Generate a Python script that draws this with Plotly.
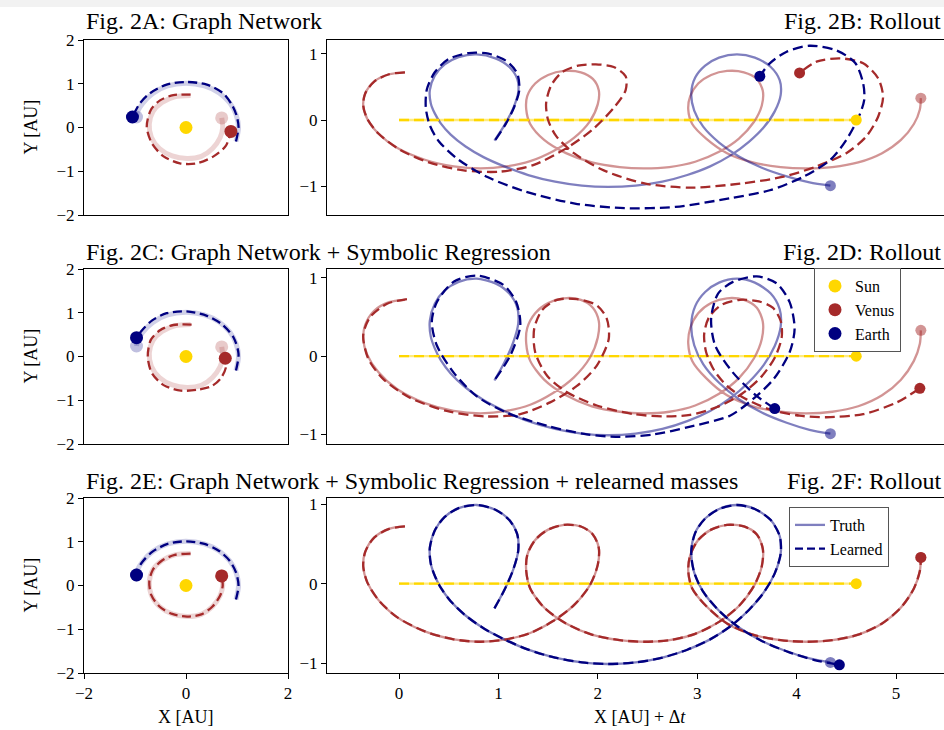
import plotly.graph_objects as go

# the page has no body margin: the figure fills the 944 x 730 window
OFF = 0
W, H = 944, 730
FONT = "Liberation Serif"

SUN = "#ffd700"
VENUS = "#a52a2a"
EARTH = "#000080"

# ---------------- data: right-hand rollout panels (X + dt vs Y) ----------------
sun_x = [0.0, 4.6]
sun_y = [0.0, 0.0]

# ground truth (same in 2B, 2D, 2F)
venus_true_x = [0.06, -0.10, -0.25, -0.34, -0.36, -0.32, -0.21, -0.02, 0.26, 0.55,
                0.82, 1.08, 1.32, 1.55, 1.76, 1.92, 2.00, 2.01, 1.95, 1.83,
                1.66, 1.50, 1.37, 1.29, 1.28, 1.32, 1.46, 1.68, 1.94, 2.22,
                2.46, 2.72, 2.98, 3.22, 3.42, 3.57, 3.65, 3.66, 3.60, 3.47,
                3.30, 3.14, 3.01, 2.93, 2.91, 2.95, 3.09, 3.30, 3.56, 3.84,
                4.09, 4.36, 4.62, 4.86, 5.05, 5.18, 5.24, 5.25]
venus_true_y = [0.72, 0.69, 0.58, 0.40, 0.22, 0.02, -0.20, -0.42, -0.60, -0.70,
                -0.73, -0.70, -0.62, -0.47, -0.27, -0.02, 0.24, 0.45, 0.62, 0.72,
                0.74, 0.68, 0.55, 0.36, 0.16, -0.06, -0.30, -0.50, -0.64, -0.71,
                -0.73, -0.71, -0.63, -0.48, -0.28, -0.03, 0.22, 0.44, 0.62, 0.72,
                0.74, 0.68, 0.55, 0.36, 0.16, -0.06, -0.28, -0.50, -0.64, -0.71,
                -0.73, -0.71, -0.64, -0.50, -0.30, -0.06, 0.16, 0.33]
earth_true_x = [0.96, 1.06, 1.15, 1.20, 1.19, 1.11, 0.97, 0.78, 0.60, 0.46,
                0.36, 0.31, 0.32, 0.36, 0.42, 0.52, 0.67, 0.85, 1.06, 1.30,
                1.57, 1.84, 2.10, 2.38, 2.65, 2.90, 3.13, 3.34, 3.52, 3.67,
                3.78, 3.84, 3.83, 3.74, 3.58, 3.40, 3.22, 3.08, 2.98, 2.94,
                2.97, 3.06, 3.22, 3.42, 3.65, 3.90, 4.13, 4.34]
earth_true_y = [-0.31, -0.08, 0.18, 0.42, 0.62, 0.80, 0.93, 0.99, 0.95, 0.84,
                0.67, 0.45, 0.25, 0.10, -0.05, -0.22, -0.40, -0.56, -0.70, -0.83,
                -0.93, -0.99, -1.01, -0.99, -0.93, -0.83, -0.70, -0.53, -0.33, -0.11,
                0.13, 0.38, 0.60, 0.80, 0.94, 0.99, 0.94, 0.82, 0.64, 0.40,
                0.14, -0.10, -0.34, -0.55, -0.72, -0.85, -0.94, -0.99]

# 2B: graph network rollout
venus_B_x = [0.06, -0.10, -0.25, -0.34, -0.36, -0.32, -0.21, 0.00, 0.30, 0.65,
             1.01, 1.35, 1.69, 1.95, 2.17, 2.28, 2.28, 2.16, 1.98, 1.80,
             1.64, 1.53, 1.48, 1.50, 1.58, 1.76, 2.06, 2.48, 2.94, 3.43,
             3.87, 4.20, 4.50, 4.70, 4.82, 4.87, 4.82, 4.67, 4.44, 4.20, 4.03]
venus_B_y = [0.72, 0.69, 0.58, 0.40, 0.22, 0.02, -0.20, -0.44, -0.64, -0.76,
             -0.78, -0.68, -0.42, -0.14, 0.20, 0.45, 0.66, 0.80, 0.84, 0.82,
             0.72, 0.52, 0.25, 0.00, -0.24, -0.50, -0.76, -0.96, -1.02, -0.96,
             -0.855, -0.70, -0.50, -0.25, 0.05, 0.35, 0.63, 0.855, 0.93, 0.88, 0.71]
earth_B_x = [0.97, 1.07, 1.16, 1.21, 1.19, 1.08, 0.90, 0.70, 0.50, 0.36,
             0.28, 0.27, 0.31, 0.40, 0.60, 0.89, 1.27, 1.77, 2.27, 2.78,
             3.33, 3.73, 4.07, 4.34, 4.50, 4.62, 4.68, 4.67, 4.59, 4.40,
             4.13, 3.90, 3.73, 3.63]
earth_B_y = [-0.30, -0.07, 0.20, 0.45, 0.70, 0.89, 1.00, 1.01, 0.92, 0.72,
             0.46, 0.18, -0.08, -0.32, -0.60, -0.86, -1.08, -1.26, -1.33, -1.31,
             -1.18, -1.06, -0.855, -0.60, -0.30, 0.03, 0.30, 0.55, 0.86, 1.05,
             1.12, 1.03, 0.855, 0.66]

# 2D: graph network + symbolic regression rollout
venus_D_x = [0.08, -0.12, -0.29, -0.36, -0.31, -0.16, 0.11, 0.48, 0.88, 1.22,
             1.52, 1.79, 1.99, 2.11, 2.09, 1.99, 1.79, 1.59, 1.44, 1.36,
             1.37, 1.49, 1.69, 1.99, 2.36, 2.69, 2.93, 3.20, 3.45, 3.64,
             3.78, 3.85, 3.84, 3.76, 3.62, 3.43, 3.25, 3.12, 3.07, 3.09,
             3.17, 3.30, 3.48, 3.73, 4.03, 4.30, 4.67, 5.01, 5.24]
venus_D_y = [0.73, 0.67, 0.50, 0.27, -0.03, -0.29, -0.53, -0.70, -0.77, -0.74,
             -0.59, -0.38, -0.12, 0.22, 0.48, 0.65, 0.73, 0.72, 0.59, 0.35,
             0.05, -0.25, -0.46, -0.63, -0.74, -0.77, -0.75, -0.65, -0.48, -0.27,
             -0.02, 0.24, 0.45, 0.62, 0.70, 0.72, 0.66, 0.50, 0.28, 0.05,
             -0.18, -0.38, -0.54, -0.68, -0.76, -0.78, -0.74, -0.59, -0.41]
earth_D_x = [0.97, 1.12, 1.22, 1.18, 1.05, 0.78, 0.55, 0.38, 0.33, 0.38,
             0.55, 0.78, 1.08, 1.49, 1.89, 2.22, 2.56, 2.93, 3.33, 3.56,
             3.77, 3.93, 3.98, 3.93, 3.80, 3.60, 3.36, 3.21, 3.14, 3.18,
             3.36, 3.60, 3.78]
earth_D_y = [-0.29, 0.01, 0.39, 0.69, 0.91, 1.03, 0.95, 0.69, 0.44, 0.14,
             -0.21, -0.51, -0.72, -0.89, -1.00, -1.03, -1.00, -0.90, -0.76, -0.55,
             -0.29, 0.05, 0.35, 0.69, 0.93, 1.02, 0.95, 0.80, 0.48, 0.14,
             -0.21, -0.51, -0.67]

# 2F: + relearned masses (Venus overlaps truth)
venus_F_x = venus_true_x
venus_F_y = venus_true_y
earth_F_x = [0.96, 1.06, 1.15, 1.20, 1.19, 1.11, 0.97, 0.78, 0.60, 0.46,
             0.36, 0.31, 0.32, 0.36, 0.42, 0.52, 0.67, 0.85, 1.06, 1.30,
             1.57, 1.84, 2.10, 2.38, 2.65, 2.90, 3.13, 3.34, 3.52, 3.67,
             3.78, 3.84, 3.83, 3.74, 3.58, 3.40, 3.22, 3.08, 2.98, 2.94,
             2.97, 3.06, 3.22, 3.42, 3.65, 3.92, 4.18, 4.43]
earth_F_y = [-0.31, -0.08, 0.18, 0.42, 0.62, 0.80, 0.93, 0.99, 0.95, 0.84,
             0.67, 0.45, 0.25, 0.10, -0.05, -0.22, -0.40, -0.56, -0.70, -0.83,
             -0.93, -0.99, -1.01, -0.99, -0.93, -0.83, -0.70, -0.53, -0.33, -0.11,
             0.13, 0.38, 0.60, 0.80, 0.94, 0.99, 0.94, 0.82, 0.64, 0.40,
             0.14, -0.10, -0.34, -0.55, -0.72, -0.86, -0.96, -1.02]

# ---------------- data: left-hand orbit panels (X vs Y) ----------------
orbit_earth_true_x = [0.98, 1.03, 0.98, 0.86, 0.65, 0.36, 0.00, -0.36, -0.65, -0.85, -0.95, -0.97]
orbit_earth_true_y = [-0.32, 0.00, 0.30, 0.56, 0.79, 0.95, 1.01, 0.95, 0.78, 0.55, 0.36, 0.24]
orbit_venus_true_x = [0.09, -0.22, -0.47, -0.65, -0.72, -0.68, -0.52, -0.27, 0.02, 0.30, 0.52, 0.67, 0.72, 0.70]
orbit_venus_true_y = [0.73, 0.70, 0.57, 0.36, 0.08, -0.22, -0.48, -0.65, -0.71, -0.66, -0.48, -0.23, 0.00, 0.22]

orbit_earth_A_x = [0.98, 1.03, 0.99, 0.90, 0.73, 0.41, 0.01, -0.38, -0.71, -0.90, -1.00, -1.05]
orbit_earth_A_y = [-0.32, 0.02, 0.28, 0.52, 0.78, 0.98, 1.04, 0.98, 0.78, 0.56, 0.36, 0.24]
orbit_venus_A_x = [0.09, -0.25, -0.51, -0.69, -0.77, -0.67, -0.44, -0.12, 0.21, 0.54, 0.78, 0.88]
orbit_venus_A_y = [0.75, 0.74, 0.62, 0.40, 0.02, -0.36, -0.66, -0.82, -0.82, -0.66, -0.42, -0.09]

orbit_earth_C_x = [0.98, 1.03, 0.93, 0.70, 0.41, 0.01, -0.38, -0.67, -0.87, -0.97]
orbit_earth_C_y = [-0.32, 0.06, 0.44, 0.74, 0.93, 1.03, 0.99, 0.82, 0.59, 0.43]
orbit_venus_C_x = [0.11, -0.25, -0.51, -0.69, -0.75, -0.67, -0.43, -0.10, 0.22, 0.50, 0.68, 0.78, 0.77]
orbit_venus_C_y = [0.73, 0.72, 0.60, 0.38, 0.00, -0.38, -0.66, -0.78, -0.76, -0.68, -0.50, -0.26, -0.04]

orbit_earth_E_x = orbit_earth_true_x
orbit_earth_E_y = orbit_earth_true_y
orbit_venus_E_x = orbit_venus_true_x
orbit_venus_E_y = orbit_venus_true_y

titles_left = ["Fig. 2A: Graph Network",
               "Fig. 2C: Graph Network + Symbolic Regression",
               "Fig. 2E: Graph Network + Symbolic Regression + relearned masses"]
titles_right = ["Fig. 2B: Rollout", "Fig. 2D: Rollout", "Fig. 2F: Rollout"]
body_names = ["Sun", "Venus", "Earth"]
style_names = ["Truth", "Learned"]

# ---------------- layout geometry (screen pixels of the target) ----------------
def px_x(p):
    return (p - OFF) / W

def px_y(p):
    return 1 - (p - OFF) / H

rows = [(40, 215), (269, 444), (498, 673)]
left_dom = [px_x(84), px_x(288)]
right_dom = [px_x(327), 1.0]
right_ranges = [[-1.433, 1.207], [-1.122, 1.114], [-1.123, 1.078]]
PPU = 99.4
XR = [(327 - 399) / PPU, (OFF + W - 399) / PPU]

fig = go.Figure()


def rgba(hexc, a):
    h = hexc.lstrip("#")
    return "rgba(%d,%d,%d,%s)" % (int(h[0:2], 16), int(h[2:4], 16), int(h[4:6], 16), a)


def line(ax, x, y, color, width, dash="solid"):
    fig.add_trace(go.Scatter(x=x, y=y, mode="lines", xaxis="x" + ax, yaxis="y" + ax,
                             line=dict(color=color, width=width, dash=dash, shape="spline", smoothing=0.8),
                             showlegend=False, hoverinfo="skip"))


def dot(ax, x, y, color, size):
    fig.add_trace(go.Scatter(x=[x], y=[y], mode="markers", xaxis="x" + ax, yaxis="y" + ax,
                             marker=dict(color=color, size=size, line=dict(width=0)),
                             showlegend=False, hoverinfo="skip"))


DASH_L = "9px,4.5px"
DASH_R = "10px,5px"

# left panels
left_sets = [("", orbit_earth_A_x, orbit_earth_A_y, orbit_venus_A_x, orbit_venus_A_y),
             ("3", orbit_earth_C_x, orbit_earth_C_y, orbit_venus_C_x, orbit_venus_C_y),
             ("5", orbit_earth_E_x, orbit_earth_E_y, orbit_venus_E_x, orbit_venus_E_y)]
for ax, ex, ey, vx, vy in left_sets:
    line(ax, orbit_earth_true_x, orbit_earth_true_y, rgba(EARTH, 0.18), 5)
    line(ax, orbit_venus_true_x, orbit_venus_true_y, rgba(VENUS, 0.2), 5)
    dot(ax, orbit_earth_true_x[-1], orbit_earth_true_y[-1], rgba(EARTH, 0.25), 13)
    dot(ax, orbit_venus_true_x[-1], orbit_venus_true_y[-1], rgba(VENUS, 0.25), 13)
    line(ax, ex, ey, EARTH, 2.3, DASH_L)
    line(ax, vx, vy, VENUS, 2.3, DASH_L)
    dot(ax, ex[-1], ey[-1], EARTH, 13)
    dot(ax, vx[-1], vy[-1], VENUS, 13)
    dot(ax, 0, 0, SUN, 13)

# right panels
right_sets = [("2", earth_B_x, earth_B_y, venus_B_x, venus_B_y),
              ("4", earth_D_x, earth_D_y, venus_D_x, venus_D_y),
              ("6", earth_F_x, earth_F_y, venus_F_x, venus_F_y)]
for ax, ex, ey, vx, vy in right_sets:
    line(ax, sun_x, sun_y, rgba(SUN, 0.5), 2.3)
    line(ax, venus_true_x, venus_true_y, rgba(VENUS, 0.5), 2.3)
    line(ax, earth_true_x, earth_true_y, rgba(EARTH, 0.5), 2.3)
    dot(ax, venus_true_x[-1], venus_true_y[-1], rgba(VENUS, 0.5), 11)
    dot(ax, earth_true_x[-1], earth_true_y[-1], rgba(EARTH, 0.5), 11)
    line(ax, sun_x, sun_y, SUN, 2.3, DASH_R)
    line(ax, vx, vy, VENUS, 2.3, DASH_R)
    line(ax, ex, ey, EARTH, 2.3, DASH_R)
    dot(ax, sun_x[-1], sun_y[-1], SUN, 11)
    dot(ax, vx[-1], vy[-1], VENUS, 11)
    dot(ax, ex[-1], ey[-1], EARTH, 11)

# legend entries (2D: bodies, 2F: truth vs learned)
for name, col in zip(body_names, [SUN, VENUS, EARTH]):
    fig.add_trace(go.Scatter(x=[None], y=[None], mode="markers", name=name, xaxis="x4", yaxis="y4",
                             marker=dict(color=col, size=13), legend="legend"))
fig.add_trace(go.Scatter(x=[None], y=[None], mode="lines", name=style_names[0], xaxis="x6", yaxis="y6",
                         line=dict(color=rgba(EARTH, 0.5), width=2.3), legend="legend2"))
fig.add_trace(go.Scatter(x=[None], y=[None], mode="lines", name=style_names[1], xaxis="x6", yaxis="y6",
                         line=dict(color=EARTH, width=2.3, dash="8px,4px"), legend="legend2"))

axis_common = dict(showline=True, mirror=True, linecolor="black", linewidth=1, showgrid=False,
                   zeroline=False, ticks="outside", ticklen=5, tickwidth=1, tickcolor="black",
                   tickfont=dict(family=FONT, size=17, color="black"), fixedrange=True,
                   automargin=False)

layout = dict(width=W, height=H, autosize=False,
              margin=dict(l=0, r=0, t=0, b=0, pad=0, autoexpand=False),
              paper_bgcolor="white", plot_bgcolor="white",
              font=dict(family=FONT, color="black"))

for i, (top, bot) in enumerate(rows):
    dom_y = [px_y(bot), px_y(top)]
    la = 2 * i + 1
    ra = 2 * i + 2
    lk = "" if la == 1 else str(la)
    bottom = (i == 2)
    layout["xaxis" + lk] = dict(axis_common, domain=left_dom, range=[-2, 2], tickvals=[-2, 0, 2],
                                anchor="y" + lk, showticklabels=bottom, ticks="outside" if bottom else "")
    layout["yaxis" + lk] = dict(axis_common, domain=dom_y, range=[-2, 2], tickvals=[-2, -1, 0, 1, 2],
                                anchor="x" + lk)
    layout["xaxis" + str(ra)] = dict(axis_common, domain=right_dom, range=XR, tickvals=[0, 1, 2, 3, 4, 5],
                                     anchor="y" + str(ra), showticklabels=bottom,
                                     ticks="outside" if bottom else "")
    # the right frame edge lies beyond the visible page, so no mirrored right spine
    layout["yaxis" + str(ra)] = dict(axis_common, domain=dom_y, range=right_ranges[i], tickvals=[-1, 0, 1],
                                     anchor="x" + str(ra), mirror=False)

layout["legend"] = dict(x=px_x(814), y=px_y(268), xanchor="left", yanchor="top",
                        bgcolor="white", bordercolor="#555555", borderwidth=1,
                        font=dict(family=FONT, size=16, color="black"), tracegroupgap=0)
layout["legend2"] = dict(x=px_x(789), y=px_y(507), xanchor="left", yanchor="top",
                         bgcolor="white", bordercolor="#555555", borderwidth=1,
                         font=dict(family=FONT, size=16, color="black"))

annotations = []
title_y = [21, 252, 481]
for i in range(3):
    annotations.append(dict(text=titles_left[i], x=px_x(84), y=px_y(title_y[i]), xref="paper", yref="paper",
                            xanchor="left", yanchor="middle", showarrow=False,
                            font=dict(family=FONT, size=24, color="black")))
    annotations.append(dict(text=titles_right[i], x=px_x(943), y=px_y(title_y[i]), xref="paper", yref="paper",
                            xanchor="right", yanchor="middle", showarrow=False,
                            font=dict(family=FONT, size=24, color="black")))
    top, bot = rows[i]
    annotations.append(dict(text="Y [AU]", x=px_x(30), y=px_y((top + bot) / 2), xref="paper", yref="paper",
                            xanchor="center", yanchor="middle", textangle=-90, showarrow=False,
                            font=dict(family=FONT, size=18, color="black")))
annotations.append(dict(text="X [AU]", x=px_x(186), y=px_y(717), xref="paper", yref="paper",
                        xanchor="center", yanchor="middle", showarrow=False,
                        font=dict(family=FONT, size=18, color="black")))
annotations.append(dict(text="X [AU] + \u0394<i>t</i>", x=px_x(640), y=px_y(717), xref="paper", yref="paper",
                        xanchor="center", yanchor="middle", showarrow=False,
                        font=dict(family=FONT, size=18, color="black")))
layout["annotations"] = annotations
layout["shapes"] = [dict(type="rect", xref="paper", yref="paper", x0=0, x1=1, y0=px_y(7), y1=1,
                         fillcolor="#f2f2f2", line=dict(width=0), layer="below")]

fig.update_layout(**layout)

fig.write_html("out.html", include_plotlyjs=True, config={"displayModeBar": False})
